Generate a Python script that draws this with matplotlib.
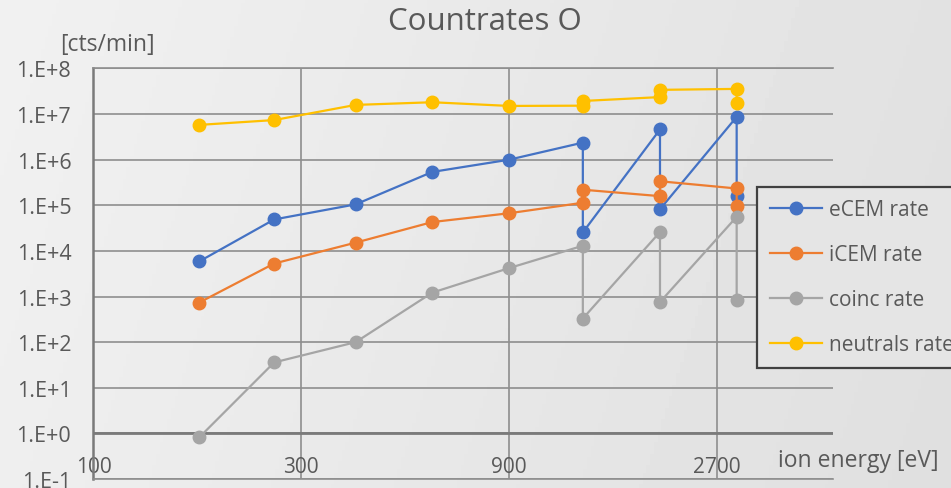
import numpy as np
import matplotlib
matplotlib.use("Agg")
import matplotlib.pyplot as plt
from matplotlib.ticker import NullLocator

plt.rcParams['font.family'] = ['Open Sans', 'DejaVu Sans']

# ion energy [eV]; repeated energies are repeated measurements
energy = [175, 260, 400, 600, 900, 1330, 1330, 2000, 2000, 3000, 3000]

ecem_rate = [5.9e3, 4.9e4, 1.05e5, 5.4e5, 1.0e6, 2.37e6, 2.55e4, 4.6e6, 8.2e4, 8.7e6, 1.59e5]
icem_rate = [740, 5.3e3, 1.52e4, 4.3e4, 6.7e4, 1.14e5, 2.2e5, 1.59e5, 3.37e5, 2.34e5, 9.7e4]
coinc_rate = [0.82, 36, 100, 1.22e3, 4.2e3, 1.3e4, 330, 2.6e4, 757, 5.6e4, 820]
neutrals_rate = [5.8e6, 7.4e6, 1.59e7, 1.82e7, 1.51e7, 1.53e7, 1.94e7, 2.36e7, 3.4e7, 3.57e7, 1.73e7]

series_names = ["eCEM rate", "iCEM rate", "coinc rate", "neutrals rate"]
series_colors = ["#4472C4", "#ED7D31", "#A5A5A5", "#FFC000"]

x_ticks = [100, 300, 900, 2700]
y_exponents = list(range(-1, 9))

text_col = "#595959"
grid_col = "#8e8e8e"

fig = plt.figure(figsize=(9.51, 4.89), dpi=100)

# soft grey slide background
bg = fig.add_axes([0, 0, 1, 1], zorder=-10)
gx = np.linspace(0, 1, 256)
gy = np.linspace(0, 1, 128)
grad = 0.945 - 0.06 * gx[None, :] - 0.01 * gy[:, None]
bg.imshow(grad, cmap="gray", vmin=0, vmax=1, aspect="auto", extent=[0, 1, 0, 1])
bg.axis("off")

ax = fig.add_axes([0.0983, 0.0184, 0.7779, 0.8395])
ax.patch.set_alpha(0)
ax.set_xscale("log")
ax.set_yscale("log")
ax.set_xlim(100, 5000)
ax.set_ylim(0.1, 1e8)

ax.set_xticks(x_ticks)
ax.set_xticklabels([str(v) for v in x_ticks])
ax.xaxis.set_minor_locator(NullLocator())
ax.set_yticks([10.0 ** k for k in y_exponents])
ax.set_yticklabels([f"1.E{k:+d}" for k in y_exponents])
ax.yaxis.set_minor_locator(NullLocator())

ax.set_axisbelow(True)
ax.grid(True, which="major", color=grid_col, lw=1.2)
ax.tick_params(length=0, colors=text_col)
ax.tick_params(axis="y", labelsize=15.5, pad=16)
ax.tick_params(axis="x", labelsize=15, pad=-9)
for lbl in ax.get_xticklabels():
    lbl.set_va("center")

for side in ["top", "bottom"]:
    ax.spines[side].set_color(grid_col)
    ax.spines[side].set_linewidth(1.2)
ax.spines["right"].set_visible(False)
ax.spines["left"].set_color("#7a7a7a")
ax.spines["left"].set_linewidth(1.8)

# horizontal axis crosses at 1
ax.axhline(1, color="#7a7a7a", lw=2, zorder=2)

for vals, name, col in zip([ecem_rate, icem_rate, coinc_rate, neutrals_rate],
                           series_names, series_colors):
    ax.plot(energy, vals, color=col, lw=1.6, marker="o", ms=9,
            label=name, zorder=3)

fig.text(485 / 951, 1 - 22 / 489, "Countrates O", ha="center", va="center",
         fontsize=22.5, color=text_col)
fig.text(60 / 951, 1 - 45 / 489, "[cts/min]", ha="left", va="center",
         fontsize=16.5, color=text_col)
fig.text(778 / 951, 1 - 461 / 489, "ion energy [eV]", ha="left", va="center",
         fontsize=16.5, color=text_col)

leg = ax.legend(loc="upper left", bbox_to_anchor=(757 / 951, 1 - 187.7 / 489),
                bbox_transform=fig.transFigure, borderaxespad=0, fontsize=15,
                handlelength=2.5, handletextpad=0.34, borderpad=0.6,
                labelspacing=1.15, fancybox=False, framealpha=1,
                facecolor="#e5e5e5", edgecolor="#404040")
leg.get_frame().set_linewidth(1.6)
for t in leg.get_texts():
    t.set_color(text_col)

fig.savefig("out.png", dpi=100)
